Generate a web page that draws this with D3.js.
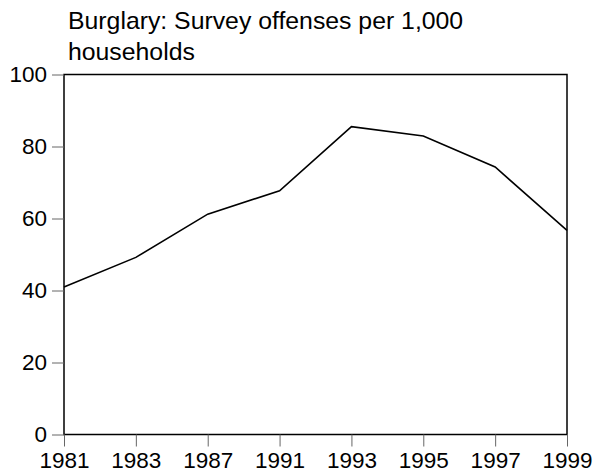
<!DOCTYPE html>
<html>
<head>
<meta charset="utf-8">
<script src="https://cdn.jsdelivr.net/npm/d3@7"></script>
<style>
  body { margin: 0; background: #fff; }
  svg text { font-family: "Liberation Sans", Arial, sans-serif; fill: #000; }
</style>
</head>
<body>
<div id="chart"></div>
<script>
// Burglary survey offenses per 1,000 households
const years = ["1981", "1983", "1987", "1991", "1993", "1995", "1997", "1999"];
const offenses = [41, 49.2, 61.2, 67.7, 85.5, 82.9, 74.3, 56.7];
const yTicks = [0, 20, 40, 60, 80, 100];
const titleLines = ["Burglary: Survey offenses per 1,000", "households"];

const width = 595;
const height = 475;
const margin = { top: 74.5, right: 28, bottom: 40.5, left: 64 };

const svg = d3.select("#chart")
    .append("svg")
    .attr("width", width)
    .attr("height", height);

const x = d3.scalePoint()
    .domain(years)
    .range([margin.left, width - margin.right]);

const y = d3.scaleLinear()
    .domain([0, 100])
    .range([height - margin.bottom, margin.top]);

// frame
svg.append("rect")
    .attr("x", margin.left)
    .attr("y", margin.top)
    .attr("width", width - margin.right - margin.left)
    .attr("height", height - margin.bottom - margin.top)
    .attr("fill", "none")
    .attr("stroke", "#000")
    .attr("stroke-width", 1.5);

// x axis
const xAxis = svg.append("g")
    .attr("transform", `translate(0,${height - margin.bottom})`)
    .call(d3.axisBottom(x).tickSize(12).tickPadding(6));
xAxis.select(".domain").remove();
xAxis.selectAll(".tick line").attr("stroke", "#666");
xAxis.selectAll(".tick text")
    .attr("font-size", 22.5)
    .attr("font-family", "Liberation Sans, Arial, sans-serif");

// y axis
const yAxis = svg.append("g")
    .attr("transform", `translate(${margin.left},0)`)
    .call(d3.axisLeft(y).tickValues(yTicks).tickSize(12).tickPadding(5));
yAxis.select(".domain").remove();
yAxis.selectAll(".tick line").attr("stroke", "#666");
yAxis.selectAll(".tick text")
    .attr("font-size", 22.5)
    .attr("font-family", "Liberation Sans, Arial, sans-serif");

// line
const line = d3.line()
    .x((d, i) => x(years[i]))
    .y(d => y(d));

svg.append("path")
    .datum(offenses)
    .attr("fill", "none")
    .attr("stroke", "#000")
    .attr("stroke-width", 1.6)
    .attr("stroke-linejoin", "miter")
    .attr("d", line);

// title
svg.append("g")
    .selectAll("text")
    .data(titleLines)
    .join("text")
    .attr("x", 68)
    .attr("y", (d, i) => 28.5 + i * 31)
    .attr("font-size", 24.8)
    .text(d => d);
</script>
</body>
</html>
